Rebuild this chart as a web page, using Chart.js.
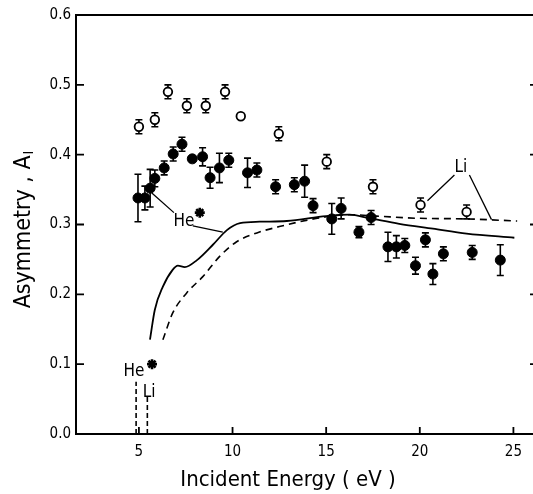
<!DOCTYPE html>
<html>
<head>
<meta charset="utf-8">
<script src="https://cdn.jsdelivr.net/npm/chart.js@4.4.0/dist/chart.umd.min.js"></script>
<style>
  html, body { margin: 0; padding: 0; background: #fff; }
  #wrap { width: 533px; height: 494px; }
</style>
</head>
<body>
<div id="wrap"><canvas id="c" width="533" height="494"></canvas></div>
<script>
const FONT = "'DejaVu Sans Condensed', 'DejaVu Sans', sans-serif";

const xTicks = [5, 10, 15, 20, 25];
const yTicks = [0.0, 0.1, 0.2, 0.3, 0.4, 0.5, 0.6];

// He (filled circles)
const heE   = [4.95, 5.32, 5.6, 5.85, 6.35, 6.83, 7.3, 7.85, 8.4, 8.8, 9.3, 9.8, 10.8, 11.3, 12.3, 13.3, 13.85, 14.3, 15.3, 15.8, 16.75, 17.4, 18.3, 18.75, 19.2, 19.77, 20.3, 20.7, 21.26, 22.8, 24.3];
const heA   = [0.338, 0.338, 0.352, 0.366, 0.381, 0.401, 0.415, 0.394, 0.397, 0.367, 0.381, 0.392, 0.374, 0.378, 0.354, 0.357, 0.362, 0.327, 0.308, 0.323, 0.289, 0.31, 0.268, 0.268, 0.27, 0.241, 0.278, 0.229, 0.258, 0.26, 0.249];
const heErr = [0.034, 0.017, 0.027, 0.012, 0.01, 0.01, 0.01, 0, 0.013, 0.015, 0.021, 0.01, 0.021, 0.01, 0.01, 0.01, 0.023, 0.01, 0.022, 0.015, 0.008, 0.01, 0.021, 0.016, 0.01, 0.012, 0.01, 0.015, 0.01, 0.01, 0.022];

// Li (open circles)
const liE   = [5.0, 5.85, 6.55, 7.56, 8.57, 9.6, 10.44, 12.47, 15.03, 17.5, 20.04, 22.5];
const liA   = [0.44, 0.45, 0.49, 0.47, 0.47, 0.49, 0.455, 0.43, 0.39, 0.354, 0.328, 0.318];
const liErr = [0.01, 0.01, 0.01, 0.01, 0.01, 0.01, 0, 0.01, 0.01, 0.01, 0.01, 0.01];

// asterisks
const starE = [8.25, 5.7];
const starA = [0.317, 0.1];

// theory curves
const heCurveE = [5.59, 5.85, 6.28, 6.8, 7.08, 7.45, 8.1, 8.95, 9.7, 10.4, 11.45, 12.9, 15.0, 16.25, 17.3, 18.9, 20.7, 22.5, 25.05];
const heCurveA = [0.135, 0.178, 0.211, 0.235, 0.241, 0.239, 0.249, 0.271, 0.292, 0.302, 0.304, 0.305, 0.312, 0.314, 0.309, 0.301, 0.294, 0.287, 0.281];
const liCurveE = [6.28, 6.8, 7.55, 8.4, 9.3, 10.2, 11.3, 12.5, 13.6, 15.0, 16.25, 17.7, 19.8, 22.5, 25.2];
const liCurveA = [0.135, 0.173, 0.202, 0.225, 0.254, 0.275, 0.288, 0.297, 0.304, 0.311, 0.314, 0.312, 0.309, 0.308, 0.305];

// threshold markers
const thrE = [4.85, 5.45];
const thrTop = [0.075, 0.053];

// labels and leader lines (data coords)
const labelText = ['He', 'He', 'Li', 'Li'];
const labelE = [7.4, 4.73, 5.55, 22.2];
const labelA = [0.304, 0.09, 0.06, 0.381];
const leaders = [
  [[6.87, 0.317], [5.69, 0.345]],
  [[7.88, 0.298], [9.48, 0.289]],
  [[21.85, 0.371], [20.41, 0.334]],
  [[22.65, 0.371], [23.83, 0.307]],
];

const pts = (xs, ys) => xs.map((x, i) => ({ x, y: ys[i] }));

const errorBars = {
  id: 'errorBars',
  beforeDatasetsDraw(chart) {
    const { ctx, scales: { x, y } } = chart;
    ctx.save();
    ctx.strokeStyle = '#000';
    ctx.lineWidth = 1.6;
    const draw = (xs, ys, es) => {
      xs.forEach((e, i) => {
        if (!es[i]) return;
        const px = x.getPixelForValue(e);
        const y1 = y.getPixelForValue(ys[i] - es[i]);
        const y2 = y.getPixelForValue(ys[i] + es[i]);
        ctx.beginPath();
        ctx.moveTo(px, y1); ctx.lineTo(px, y2);
        ctx.moveTo(px - 3.5, y1); ctx.lineTo(px + 3.5, y1);
        ctx.moveTo(px - 3.5, y2); ctx.lineTo(px + 3.5, y2);
        ctx.stroke();
      });
    };
    draw(heE, heA, heErr);
    draw(liE, liA, liErr);
    ctx.restore();
  },
};

const frame = {
  id: 'frame',
  afterDraw(chart) {
    const { ctx, chartArea: a, scales: { x, y } } = chart;
    const R = chart.width; // frame runs off the right edge of the picture
    ctx.save();
    ctx.strokeStyle = '#000';
    ctx.lineWidth = 2;
    ctx.beginPath();
    ctx.moveTo(R, a.top); ctx.lineTo(a.left, a.top);
    ctx.lineTo(a.left, a.bottom); ctx.lineTo(R, a.bottom);
    ctx.stroke();
    ctx.lineWidth = 1.8;
    ctx.beginPath();
    yTicks.forEach(v => {
      const py = y.getPixelForValue(v);
      ctx.moveTo(a.left, py); ctx.lineTo(a.left + 8, py);
      ctx.moveTo(R - 3, py); ctx.lineTo(R, py);
    });
    xTicks.forEach(v => {
      const px = x.getPixelForValue(v);
      ctx.moveTo(px, a.bottom); ctx.lineTo(px, a.bottom - 7);
    });
    ctx.stroke();

    // leader lines
    ctx.lineWidth = 1.3;
    ctx.beginPath();
    leaders.forEach(([p, q]) => {
      ctx.moveTo(x.getPixelForValue(p[0]), y.getPixelForValue(p[1]));
      ctx.lineTo(x.getPixelForValue(q[0]), y.getPixelForValue(q[1]));
    });
    ctx.stroke();

    // labels
    ctx.fillStyle = '#000';
    ctx.textAlign = 'center';
    ctx.textBaseline = 'middle';
    ctx.font = '17px ' + FONT;
    labelText.forEach((t, i) => {
      ctx.fillText(t, x.getPixelForValue(labelE[i]), y.getPixelForValue(labelA[i]));
    });

    // axis titles
    ctx.font = '22px ' + FONT;
    ctx.fillText('Incident Energy ( eV )', 288, 480);
    ctx.save();
    ctx.translate(24, 230);
    ctx.rotate(-Math.PI / 2);
    const main = 'Asymmetry , A';
    ctx.font = '23px ' + FONT;
    const wMain = ctx.measureText(main).width;
    ctx.font = '14px ' + FONT;
    const wSub = ctx.measureText('I').width;
    const start = -(wMain + wSub) / 2;
    ctx.textAlign = 'left';
    ctx.font = '23px ' + FONT;
    ctx.fillText(main, start, 0);
    ctx.font = '14px ' + FONT;
    ctx.fillText('I', start + wMain + 1, 5);
    ctx.restore();
    ctx.restore();
  },
};

new Chart(document.getElementById('c'), {
  type: 'scatter',
  data: {
    datasets: [
      {
        label: 'He', data: pts(heE, heA),
        pointRadius: 5, pointBackgroundColor: '#000', pointBorderColor: '#000', pointBorderWidth: 1,
      },
      {
        label: 'Li', data: pts(liE, liA),
        pointRadius: 4.3, pointBackgroundColor: '#fff', pointBorderColor: '#000', pointBorderWidth: 1.8,
      },
      {
        label: 'star', data: pts(starE, starA), pointStyle: 'star',
        pointRadius: 5, pointBorderColor: '#000', pointBorderWidth: 2.6,
      },
      {
        type: 'line', label: 'He theory', data: pts(heCurveE, heCurveA),
        borderColor: '#000', borderWidth: 1.8, pointRadius: 0, cubicInterpolationMode: 'monotone', fill: false,
      },
      {
        type: 'line', label: 'Li theory', data: pts(liCurveE, liCurveA),
        borderColor: '#000', borderWidth: 1.6, borderDash: [7, 5], pointRadius: 0, cubicInterpolationMode: 'monotone', fill: false,
      },
      ...thrE.map((e, i) => ({
        type: 'line', label: 'thr' + i, data: [{ x: e, y: 0 }, { x: e, y: thrTop[i] }],
        borderColor: '#000', borderWidth: 1.6, borderDash: [5, 3], pointRadius: 0, fill: false,
      })),
    ],
  },
  options: {
    responsive: false,
    animation: false,
    devicePixelRatio: 1,
    layout: { padding: { top: 15, right: 0, left: 0, bottom: 0 } },
    plugins: { legend: { display: false }, tooltip: { enabled: false } },
    scales: {
      x: {
        type: 'linear', min: 1.64, max: 25.64,
        afterFit: (s) => { s.height = 60; },
        afterBuildTicks: (s) => { s.ticks = xTicks.map(v => ({ value: v })); },
        grid: { display: false, drawTicks: false },
        border: { display: false },
        ticks: { padding: 9, color: '#000', font: { family: FONT, size: 15 }, callback: (v) => String(v) },
      },
      y: {
        type: 'linear', min: 0, max: 0.6,
        afterFit: (s) => { s.width = 76; },
        afterBuildTicks: (s) => { s.ticks = yTicks.map(v => ({ value: v })); },
        grid: { display: false, drawTicks: false },
        border: { display: false },
        ticks: { padding: 5, color: '#000', font: { family: FONT, size: 15 }, callback: (v) => v.toFixed(1) },
      },
    },
  },
  plugins: [errorBars, frame],
});
</script>
</body>
</html>
